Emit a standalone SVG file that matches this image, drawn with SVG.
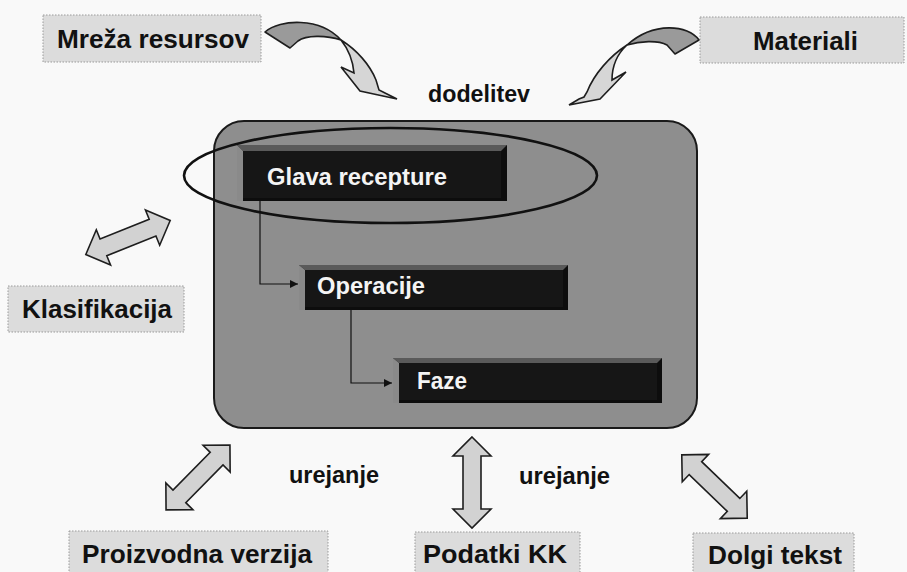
<svg xmlns="http://www.w3.org/2000/svg" xmlns:xlink="http://www.w3.org/1999/xlink" width="907" height="572" viewBox="0 0 907 572">
  <style>
    .label-box { fill: #dcdcdc; stroke: #9a9a9a; stroke-width: 1; stroke-dasharray: 1.5 1.5; }
    .label { font-family: "Liberation Sans", Arial, sans-serif; font-weight: bold; font-size: 26px; fill: #111; }
    .note { font-family: "Liberation Sans", Arial, sans-serif; font-weight: bold; font-size: 24px; fill: #111; }
    .bar-text { font-family: "Liberation Sans", Arial, sans-serif; font-weight: bold; font-size: 23px; fill: #f4f4f4; }
    .dbl { fill: #d2d2d2; stroke: #1e1e1e; stroke-width: 1.6; stroke-linejoin: miter; }
    .curve-back { fill: #9a9a9a; stroke: #1e1e1e; stroke-width: 1.6; stroke-linejoin: round; }
    .curve-front { fill: #d6d6d6; stroke: #1e1e1e; stroke-width: 1.6; stroke-linejoin: miter; }
    .link { fill: none; stroke: #111; stroke-width: 1.2; }
    .bar-outer { fill: #0d0d0d; }
    .bar-top { fill: #5a5a5a; }
    .bar-left { fill: #8a8a8a; }
    .bar-inner { fill: #161616; }
  </style>
  <defs>
    <!-- double-headed block arrow, 91 long, centred on the origin along x -->
    <path id="dbl" d="M-45.5,0 L-26.5,-19 L-26.5,-9 L26.5,-9 L26.5,-19 L45.5,0 L26.5,19 L26.5,9 L-26.5,9 L-26.5,19 Z"/>
    <marker id="tip" viewBox="0 0 10 10" refX="10" refY="5" markerWidth="10" markerHeight="8" markerUnits="userSpaceOnUse" orient="auto">
      <path d="M0,0 L10,5 L0,10 Z" fill="#111"/>
    </marker>
  </defs>

  <rect width="907" height="572" fill="#f9f9f9"/>

  <!-- central recipe block -->
  <g id="recipe">
    <rect x="214" y="121" width="483" height="307" rx="30" ry="30" fill="#8e8e8e" stroke="#1a1a1a" stroke-width="2"/>
  </g>

  <g id="glava">
    <rect class="bar-outer" x="237" y="145" width="270" height="56"/>
    <polygon class="bar-top" points="237,145 507,145 501,151 243,151"/>
    <polygon class="bar-left" points="237,145 243,151 243,201 237,201"/>
    <rect class="bar-inner" x="243" y="151" width="258" height="47"/>
    <text class="bar-text" x="267" y="185" textLength="180" lengthAdjust="spacingAndGlyphs">Glava recepture</text>
  </g>

  <g id="operacije">
    <rect class="bar-outer" x="299" y="265" width="269" height="45"/>
    <polygon class="bar-top" points="299,265 568,265 563,270 305,270"/>
    <polygon class="bar-left" points="299,265 305,270 305,310 299,310"/>
    <rect class="bar-inner" x="305" y="270" width="258" height="37"/>
    <text class="bar-text" x="317" y="294" textLength="108" lengthAdjust="spacingAndGlyphs">Operacije</text>
  </g>

  <g id="faze">
    <rect class="bar-outer" x="393" y="358" width="269" height="45"/>
    <polygon class="bar-top" points="393,358 662,358 657,363 399,363"/>
    <polygon class="bar-left" points="393,358 399,363 399,403 393,403"/>
    <rect class="bar-inner" x="399" y="363" width="258" height="37"/>
    <text class="bar-text" x="417" y="389" textLength="50" lengthAdjust="spacingAndGlyphs">Faze</text>
  </g>

  <!-- highlight around the header -->
  <ellipse id="header-mark" cx="390.5" cy="175.5" rx="206.5" ry="47.5" fill="none" stroke="#111" stroke-width="2.6"/>

  <!-- surrounding objects -->
  <g id="mreza">
    <rect class="label-box" x="43" y="15" width="218" height="47"/>
    <text class="label" x="57" y="48" textLength="192" lengthAdjust="spacingAndGlyphs">Mreža resursov</text>
  </g>
  <g id="materiali">
    <rect class="label-box" x="700" y="17" width="204" height="46"/>
    <text class="label" x="753" y="50" textLength="105" lengthAdjust="spacingAndGlyphs">Materiali</text>
  </g>
  <g id="klasifikacija">
    <rect class="label-box" x="8" y="286" width="176" height="46"/>
    <text class="label" x="22" y="318" textLength="150" lengthAdjust="spacingAndGlyphs">Klasifikacija</text>
  </g>
  <g id="proizvodna">
    <rect class="label-box" x="69" y="531" width="259" height="46"/>
    <text class="label" x="82" y="563" textLength="230" lengthAdjust="spacingAndGlyphs">Proizvodna verzija</text>
  </g>
  <g id="podatki">
    <rect class="label-box" x="415" y="532" width="165" height="45"/>
    <text class="label" x="423" y="563" textLength="144" lengthAdjust="spacingAndGlyphs">Podatki KK</text>
  </g>
  <g id="dolgi">
    <rect class="label-box" x="693" y="533" width="161" height="44"/>
    <text class="label" x="708" y="564" textLength="134" lengthAdjust="spacingAndGlyphs">Dolgi tekst</text>
  </g>

  <!-- connectors -->
  <g id="connectors">
    <path class="link" d="M260,201 V284 H298" marker-end="url(#tip)"/>
    <path class="link" d="M351,310 V383 H392" marker-end="url(#tip)"/>

    <!-- curved assignment arrows -->
    <path class="curve-back" d="M265,32 C280,19 320,17 341,40 C326,35 306,35 298,41 L290,48 Z"/>
    <path class="curve-front" d="M341,40 C357,50 370,65 376,80 L379,90 L385,93 L397,99 L383,96 L360,91 L341,67 L354,73 C353,62 349,50 341,40 Z"/>
    <path class="curve-back" d="M699,40 C688,25 654,21 627,45 C640,41 658,40 667,45 L675,54 Z"/>
    <path class="curve-front" d="M627,45 C610,56 594,74 587,92 L584,97 L579,99 L569,105 L600,99 L626,72 L612,80 C612,68 615,56 627,45 Z"/>

    <!-- two-way links -->
    <use xlink:href="#dbl" class="dbl" transform="translate(128,237.5) rotate(-22)"/>
    <use xlink:href="#dbl" class="dbl" transform="translate(198,477.5) rotate(-45.4)"/>
    <use xlink:href="#dbl" class="dbl" transform="translate(472,482.5) rotate(90)"/>
    <use xlink:href="#dbl" class="dbl" transform="translate(714.5,486.5) rotate(44)"/>

    <text class="note" x="428" y="102" textLength="102" lengthAdjust="spacingAndGlyphs">dodelitev</text>
    <text class="note" x="289" y="483" textLength="90" lengthAdjust="spacingAndGlyphs">urejanje</text>
    <text class="note" x="519" y="484" textLength="91" lengthAdjust="spacingAndGlyphs">urejanje</text>
  </g>
</svg>
